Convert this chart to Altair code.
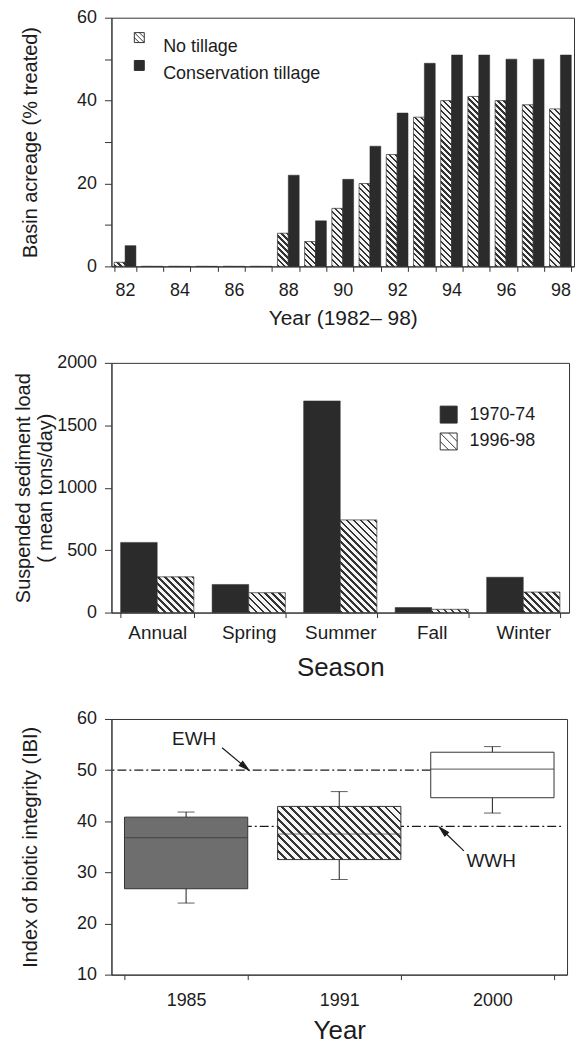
import altair as alt
import pandas as pd

FONT = "Liberation Sans"
INK = "#1c1c1c"
DARK = "#2b2b2b"
EDGE = "#333333"

# ---------------- Panel A: tillage ----------------
years = [82, 83, 84, 85, 86, 87, 88, 89, 90, 91, 92, 93, 94, 95, 96, 97, 98]
no_tillage = [1, 0, 0, 0, 0, 0, 8, 6, 14, 20, 27, 36, 40, 41, 40, 39, 38]
conservation_tillage = [5, 0, 0, 0, 0, 0, 22, 11, 21, 29, 37, 49, 51, 51, 50, 50, 51]
tillage_series = ["No tillage", "Conservation tillage"]

# ---------------- Panel B: sediment ----------------
seasons = ["Annual", "Spring", "Summer", "Fall", "Winter"]
load_1970_74 = [562, 225, 1695, 40, 283]
load_1996_98 = [286, 159, 742, 26, 164]
period_series = ["1970-74", "1996-98"]

# ---------------- Panel C: IBI ----------------
ibi_years = ["1985", "1991", "2000"]
ibi_low = [24.0, 28.6, 41.6]
ibi_q1 = [26.8, 32.5, 44.6]
ibi_median = [36.8, 37.5, 50.2]
ibi_q3 = [40.8, 42.9, 53.5]
ibi_high = [41.8, 45.8, 54.6]
ewh_level = [50]
wwh_level = [39]

HATCH_SYMBOL = "M-1,-1H1V1H-1Z M-1,-1L1,1 M0,-1L1,0 M-1,0L0,1"
SQUARE_SYMBOL = "M-1,-1H1V1H-1Z"
ARROW_SHAPE = "M0,1L0,-0.5 M0,-1L0.15,-0.42L-0.15,-0.42Z"


def hatch_expr(w, h_expr, period, n=40, dark="#333333", light="#f5f5f5", duty=0.4):
    """Diagonal '\\' hatching as a per-bar linear gradient (bbox units)."""
    stops = []
    for k in range(n):
        a = k / n
        b = (k + duty) / n
        c = (k + 1) / n
        stops.append("{offset:%.5f,color:'%s'}" % (a, dark))
        stops.append("{offset:%.5f,color:'%s'}" % (b, dark))
        stops.append("{offset:%.5f,color:'%s'}" % (b, light))
        stops.append("{offset:%.5f,color:'%s'}" % (c, light))
    pn = period * n
    hh = "(%s)" % h_expr
    den = "(%.4f+%s*%s)" % (w * w, hh, hh)
    return ("{gradient:'linear',x1:0,y1:1,x2:%.4f/%s,y2:1-%.4f*%s/%s,stops:[%s]}"
            % (pn * w, den, pn, hh, den, ",".join(stops)))


def band_width(width, n, pin, pout):
    step = width / (n - pin + 2 * pout)
    return step * (1 - pin)


# ======================= Panel A =======================
W1, H1 = 465, 250
PI1, PO1 = 0.2, 0.1
SUB1 = band_width(W1, len(years), PI1, PO1) / 2

df1 = pd.DataFrame({
    "year": years * 2,
    "series": [tillage_series[0]] * len(years) + [tillage_series[1]] * len(years),
    "v": no_tillage + conservation_tillage,
})

x1 = alt.X("year:O", scale=alt.Scale(paddingInner=PI1, paddingOuter=PO1),
           axis=alt.Axis(title="Year (1982– 98)", labelAngle=0,
                         labelExpr="datum.value % 2 == 0 ? datum.label : ''",
                         tickBand="extent", tickSize=5, labelPadding=10, titlePadding=8,
                         labelFontSize=18, titleFontSize=21))
xo1 = alt.XOffset("series:N", scale=alt.Scale(domain=tillage_series, paddingInner=0, paddingOuter=0))
y1 = alt.Y("v:Q", scale=alt.Scale(domain=[0, 60], nice=False),
           axis=alt.Axis(title="Basin acreage (% treated)", values=list(range(0, 61, 10)),
                         labelExpr="datum.value % 20 == 0 ? datum.label : ''",
                         tickSize=7, labelPadding=8, titlePadding=36,
                         labelFontSize=18, titleFontSize=20))

base1 = alt.Chart(df1).encode(x=x1, xOffset=xo1, y=y1)
hat1 = base1.transform_filter(alt.datum.series == tillage_series[0]).mark_bar(
    fill={"expr": hatch_expr(SUB1, "datum.v*%.5f" % (H1 / 60.0), 6)}, stroke=EDGE, strokeWidth=0.7)
dark1 = base1.transform_filter(alt.datum.series == tillage_series[1]).mark_bar(
    fill=DARK, stroke=DARK, strokeWidth=0.5)

leg1 = alt.Legend(title=None, orient="none", legendX=19, legendY=11, symbolSize=100,
                  symbolStrokeWidth=1, symbolOpacity=1, labelFontSize=18, labelFont=FONT,
                  labelFontWeight="normal", labelColor=INK, labelOffset=15, rowPadding=1,
                  labelBaseline="top")
pts1 = base1.mark_point(filled=True, opacity=0).encode(
    fill=alt.Fill("series:N", scale=alt.Scale(domain=tillage_series, range=["#ffffff", DARK]), legend=leg1),
    stroke=alt.Stroke("series:N", scale=alt.Scale(domain=tillage_series, range=[EDGE, DARK]), legend=leg1),
    shape=alt.Shape("series:N", scale=alt.Scale(domain=tillage_series, range=[HATCH_SYMBOL, SQUARE_SYMBOL]), legend=leg1),
)
top = alt.layer(hat1, dark1, pts1).properties(width=W1, height=H1)

# ======================= Panel B =======================
W2, H2 = 460, 251
PI2, PO2 = 0.2, 0.1
SUB2 = band_width(W2, len(seasons), PI2, PO2) / 2

df2 = pd.DataFrame({
    "season": seasons * 2,
    "period": [period_series[0]] * len(seasons) + [period_series[1]] * len(seasons),
    "v": load_1970_74 + load_1996_98,
})
x2 = alt.X("season:N", sort=seasons, scale=alt.Scale(paddingInner=PI2, paddingOuter=PO2),
           axis=alt.Axis(title="Season", labelAngle=0, tickBand="extent", tickSize=5,
                         labelPadding=6, titlePadding=12, labelFontSize=19, titleFontSize=26))
xo2 = alt.XOffset("period:N", scale=alt.Scale(domain=period_series, paddingInner=0, paddingOuter=0))
y2 = alt.Y("v:Q", scale=alt.Scale(domain=[0, 2000], nice=False),
           axis=alt.Axis(title=["Suspended sediment load", "( mean tons/day)"], format="d",
                         values=[0, 500, 1000, 1500, 2000], tickSize=7, labelPadding=8,
                         titlePadding=1, titleLineHeight=22, labelFontSize=18, titleFontSize=20))
base2 = alt.Chart(df2).encode(x=x2, xOffset=xo2, y=y2)
dark2 = base2.transform_filter(alt.datum.period == period_series[0]).mark_bar(
    fill=DARK, stroke=DARK, strokeWidth=0.5)
hat2 = base2.transform_filter(alt.datum.period == period_series[1]).mark_bar(
    fill={"expr": hatch_expr(SUB2, "datum.v*%.6f" % (H2 / 2000.0), 7)}, stroke=EDGE, strokeWidth=0.7)
leg2 = alt.Legend(title=None, orient="none", legendX=330, legendY=43, symbolSize=289,
                  symbolStrokeWidth=1, symbolOpacity=1, labelFontSize=18, labelFont=FONT,
                  labelFontWeight="normal", labelColor=INK, labelOffset=12, rowPadding=5)
pts2 = base2.mark_point(filled=True, opacity=0).encode(
    fill=alt.Fill("period:N", scale=alt.Scale(domain=period_series, range=[DARK, "#ffffff"]), legend=leg2),
    stroke=alt.Stroke("period:N", scale=alt.Scale(domain=period_series, range=[DARK, EDGE]), legend=leg2),
    shape=alt.Shape("period:N", scale=alt.Scale(domain=period_series, range=[SQUARE_SYMBOL, HATCH_SYMBOL]), legend=leg2),
)
mid = alt.layer(dark2, hat2, pts2).properties(width=W2, height=H2)

# ======================= Panel C =======================
W3, H3 = 458, 257
PI3, PO3 = 0.195, 0.085
BAND3 = band_width(W3, len(ibi_years), PI3, PO3)

df3 = pd.DataFrame({"year": ibi_years, "lo": ibi_low, "q1": ibi_q1, "med": ibi_median,
                    "q3": ibi_q3, "hi": ibi_high})
x3_scale = alt.Scale(domain=ibi_years, paddingInner=PI3, paddingOuter=PO3)
x3_axis = alt.Axis(title="Year", labelAngle=0, tickBand="extent", tickSize=5, labelPadding=12,
                   titlePadding=8, labelFontSize=18, titleFontSize=26)
y3_scale = alt.Scale(domain=[10, 60], nice=False)
y3_axis = alt.Axis(title="Index of biotic integrity (IBI)", values=list(range(10, 61, 10)),
                   tickSize=7, labelPadding=8, titlePadding=36, labelFontSize=18, titleFontSize=20)
x3 = alt.X("year:N", scale=x3_scale, axis=x3_axis)


def xd(year, pos):
    return alt.X(datum=year, type="nominal", bandPosition=pos, scale=x3_scale, axis=x3_axis)


def yd(val):
    return alt.Y(datum=val, type="quantitative", scale=y3_scale, axis=y3_axis)


ref_df_e = pd.DataFrame({"level": ewh_level})
ref_df_w = pd.DataFrame({"level": wwh_level})
ewh = alt.Chart(ref_df_e).mark_rule(color=INK, strokeDash=[9, 3, 2, 3], strokeWidth=1.2).encode(
    x=xd("2000", 0), x2=alt.value(0), y=alt.Y("level:Q", scale=y3_scale, axis=y3_axis))
wwh = alt.Chart(ref_df_w).mark_rule(color=INK, strokeDash=[9, 3, 2, 3], strokeWidth=1.2).encode(
    x=xd("1985", 0), x2=alt.value(W3 - 6), y=alt.Y("level:Q", scale=y3_scale, axis=y3_axis))

base3 = alt.Chart(df3).encode(x=x3)
whisk = base3.mark_rule(color=INK, strokeWidth=1).encode(
    y=alt.Y("lo:Q", scale=y3_scale, axis=y3_axis), y2="hi:Q")
cap_lo = base3.mark_tick(color=INK, size=17, thickness=1).encode(y=alt.Y("lo:Q", scale=y3_scale, axis=y3_axis))
cap_hi = base3.mark_tick(color=INK, size=17, thickness=1).encode(y=alt.Y("hi:Q", scale=y3_scale, axis=y3_axis))
box_solid = base3.transform_filter(alt.datum.year != "1991").mark_bar(stroke=EDGE, strokeWidth=1).encode(
    y=alt.Y("q1:Q", scale=y3_scale, axis=y3_axis), y2="q3:Q",
    fill=alt.Fill("year:N", scale=alt.Scale(domain=["1985", "2000"], range=["#6e6e6e", "#ffffff"]), legend=None))
box_hatch = base3.transform_filter(alt.datum.year == "1991").mark_bar(
    fill={"expr": hatch_expr(BAND3, "(datum.q3-datum.q1)*%.5f" % (H3 / 50.0), 8, duty=0.35)},
    stroke=EDGE, strokeWidth=1).encode(y=alt.Y("q1:Q", scale=y3_scale, axis=y3_axis), y2="q3:Q")
median = base3.mark_tick(color="#3d3d3d", size=BAND3, thickness=1.2).encode(
    y=alt.Y("med:Q", scale=y3_scale, axis=y3_axis))

ann = alt.Chart(pd.DataFrame({"a": [0]}))
ewh_text = ann.mark_text(text="EWH", font=FONT, fontSize=19, color=INK).encode(x=xd("1985", 0.565), y=yd(56.1))
wwh_text = ann.mark_text(text="WWH", font=FONT, fontSize=19, color=INK).encode(x=xd("2000", 0.49), y=yd(32.2))
ewh_arrow = ann.mark_point(shape=ARROW_SHAPE, size=1225, angle=130, filled=True, fill=INK, stroke=INK,
                           strokeWidth=1.2, opacity=1).encode(x=xd("1985", 0.9), y=yd(52.2))
wwh_arrow = ann.mark_point(shape=ARROW_SHAPE, size=1156, angle=314, filled=True, fill=INK, stroke=INK,
                           strokeWidth=1.2, opacity=1).encode(x=xd("2000", 0.17), y=yd(36.5))

bot = alt.layer(ewh, wwh, whisk, cap_lo, cap_hi, box_solid, box_hatch, median,
                ewh_text, wwh_text, ewh_arrow, wwh_arrow).properties(width=W3, height=H3)

INDEP = dict(x="independent", y="independent", xOffset="independent", fill="independent",
             stroke="independent", shape="independent")

upper = alt.vconcat(top, mid, spacing=24).resolve_scale(**INDEP).resolve_legend(
    fill="independent", stroke="independent", shape="independent")
chart = alt.vconcat(upper, bot, spacing=28).resolve_scale(**INDEP).resolve_legend(
    fill="independent", stroke="independent", shape="independent").properties(
    padding={"left": 5, "top": -3, "right": 0, "bottom": 0}
).configure(font=FONT).configure_view(stroke=EDGE, strokeWidth=1).configure_axis(
    labelFont=FONT, titleFont=FONT, labelColor=INK, titleColor=INK, titleFontWeight="normal",
    domainColor=EDGE, tickColor=EDGE, grid=False
).configure_legend(labelFont=FONT)

chart.save("out.html", embed_options={"renderer": "svg", "actions": False})
